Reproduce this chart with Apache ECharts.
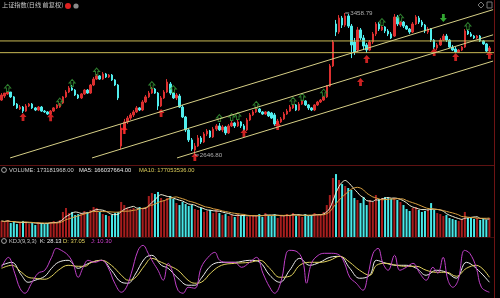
<!DOCTYPE html>
<html><head><meta charset="utf-8">
<script src="https://cdn.jsdelivr.net/npm/echarts@6/dist/echarts.min.js"></script>
<style>html,body{margin:0;padding:0;background:#000;}#c{width:500px;height:298px;}</style>
</head><body><div id="c"></div>
<script>
// ---- data ----
const opens = [2961,2984,2996,3007,2979,2938,2910,2921,2898,2927,2938,2916,2904,2921,2898,2893,2881,2898,2916,2921,
2944,2979,3007,3030,3018,2990,2973,2996,3018,3001,3047,3081,3099,3081,3110,3093,3104,3076,3047,2698,
2790,2836,2858,2876,2893,2916,2904,2950,2979,3001,3024,3001,2927,2973,3007,3053,3001,2973,2984,2921,
2864,2790,2733,2675,2698,2744,2721,2767,2784,2750,2795,2813,2790,2807,2773,2813,2830,2813,2836,2813,
2790,2847,2876,2893,2910,2893,2881,2893,2887,2876,2824,2836,2853,2881,2898,2916,2933,2904,2938,2956,
2933,2916,2904,2933,2950,2961,2979,3041,3156,3396,3350,3430,3390,3442,3384,3293,3247,3362,3316,3276,
3247,3293,3339,3396,3362,3379,3356,3339,3327,3436,3390,3407,3384,3367,3350,3396,3430,3407,3390,3350,
3367,3304,3259,3276,3304,3327,3304,3264,3253,3236,3247,3264,3356,3339,3327,3316,3327,3299,3282,3241];
const closes = [2990,3001,3007,2979,2933,2916,2921,2898,2927,2938,2916,2904,2921,2898,2893,2881,2898,2916,2933,2938,
2979,3007,3030,3018,2990,2973,2996,3018,3001,3047,3081,3099,3081,3110,3093,3104,3076,3047,2973,2801,
2836,2858,2876,2893,2916,2904,2950,2979,3001,3024,3001,2927,2973,3007,3064,3001,2973,2990,2921,2864,
2790,2733,2681,2698,2744,2721,2767,2784,2750,2795,2813,2790,2807,2773,2813,2830,2813,2836,2813,2790,
2847,2876,2893,2910,2893,2881,2893,2870,2858,2824,2841,2853,2881,2898,2921,2933,2904,2938,2956,2933,
2916,2904,2933,2950,2961,2979,3041,3156,3293,3350,3430,3390,3442,3384,3276,3236,3362,3316,3270,3247,
3293,3339,3396,3367,3379,3356,3339,3316,3436,3396,3407,3384,3367,3350,3396,3436,3407,3390,3356,3367,
3304,3264,3276,3304,3327,3304,3264,3247,3236,3247,3264,3356,3339,3327,3316,3327,3299,3282,3241,3259];
const lows = [2956,2973,2990,2973,2927,2910,2904,2887,2893,2921,2910,2898,2898,2893,2887,2876,2876,2893,2910,2916,
2938,2973,3001,3013,2984,2967,2967,2990,2996,2996,3041,3076,3076,3076,3087,3087,3070,3041,2961,2681,
2767,2824,2847,2864,2887,2898,2898,2944,2973,2996,2996,2904,2921,2967,3001,2990,2967,2961,2916,2858,
2778,2721,2670,2646.8,2693,2710,2715,2755,2744,2744,2784,2784,2778,2761,2767,2807,2801,2807,2801,2784,
2784,2841,2870,2887,2887,2876,2876,2864,2853,2813,2818,2830,2847,2876,2893,2910,2898,2898,2933,2927,
2904,2898,2898,2927,2944,2956,2973,3036,3150,3327,3339,3373,3379,3373,3201,3219,3236,3304,3247,3230,
3241,3282,3327,3356,3356,3344,3327,3310,3322,3384,3379,3373,3362,3339,3344,3390,3396,3379,3344,3339,
3293,3253,3247,3270,3299,3293,3259,3241,3230,3230,3241,3259,3333,3322,3310,3310,3293,3276,3236,3236];
const highs = [3001,3001,3007,3007,2984,2944,2933,2927,2938,2944,2944,2921,2927,2927,2904,2898,2904,2921,2938,2944,
2984,3018,3041,3047,3024,2996,3001,3024,3024,3053,3093,3110,3104,3121,3116,3110,3110,3081,3053,2824,
2853,2870,2887,2904,2927,2921,2961,2990,3013,3036,3030,3007,2984,3018,3081,3064,3007,3001,2996,2933,
2870,2801,2744,2715,2761,2755,2778,2795,2790,2807,2824,2830,2818,2813,2824,2841,2836,2847,2841,2824,
2858,2887,2904,2921,2916,2898,2898,2898,2893,2887,2853,2864,2893,2910,2933,2938,2938,2950,2961,2961,
2938,2921,2938,2956,2967,2984,3047,3167,3304,3419,3447,3442,3458.79,3453,3396,3316,3379,3373,3333,3287,
3304,3350,3407,3407,3384,3384,3367,3350,3453,3447,3413,3413,3390,3373,3407,3447,3442,3419,3396,3379,
3373,3310,3287,3316,3339,3339,3310,3276,3264,3253,3270,3367,3362,3350,3333,3333,3333,3304,3287,3270];
const volumeMillions = [146,137,155,127,137,118,127,146,137,118,127,109,137,
127,118,127,137,146,137,155,
228,264,218,228,200,209,218,237,228,246,273,
264,228,209,200,191,200,218,
228,319,291,
264,255,264,246,273,255,
273,
373,400,391,410,
355,
337,355,373,346,
309,291,319,300,282,291,
255,246,264,228,237,246,218,255,
218,200,209,191,200,182,209,191,200,182,191,
200,191,209,182,218,200,191,209,173,200,191,209,200,218,191,200,182,209,191,200,218,200,209,
228,291,382,537,573,519,482,464,446,428,355,337,309,364,291,337,319,382,346,355,364,355,346,355,337,319,291,255,237,264,273,246,228,237,246,309,246,218,209,191,200,173,164,155,146,164,228,173,182,164,173,155,164,155,173.18];

// KDJ (position in candle index units)
const kdIdx = [0,3.3,6.5,8.7,10.9,14.1,16.3,18.5,21.7,25,27.1,29.3,32.6,35.8,39.1,41.3,43.4,46.7,48.9,52.1,54.3,57.5,60.8,63,65.1,68.4,71.7,76,
80.9,84.2,87.4,90.7,93.9,97.2,100.4,103.7,107,110.2,113.5,116.7,120,122.2,125.4,128.7,131.9,135.2,138.4,141.7,145,148.2,151.5,154.7,159];
const kValues = [58.4,63.7,40.6,28.1,31.7,38.8,53.0,63.7,67.3,53.0,58.4,63.7,67.3,49.5,28.1,26.4,40.6,70.8,76.2,58.4,53.0,35.3,22.8,22.8,35.3,58.4,63.7,63.7,
67.3,63.7,40.6,28.1,49.5,70.8,58.4,63.7,72.6,74.4,53.0,35.3,40.6,67.3,61.9,58.4,58.4,53.0,40.6,49.5,45.9,35.3,63.7,53.0,28.13];
const dValues = [53.0,58.4,45.9,37.0,35.3,33.5,38.8,49.5,58.4,56.6,56.6,63.7,67.3,58.4,40.6,31.7,35.3,58.4,70.8,63.7,58.4,49.5,31.7,26.4,28.1,45.9,58.4,61.9,
63.7,67.3,53.0,37.0,38.8,58.4,63.7,63.7,67.3,74.4,63.7,49.5,40.6,58.4,61.9,58.4,56.6,56.6,49.5,45.9,45.9,38.8,53.0,58.4,37.05];
const jIdx = [0,2.2,4.3,6,7.6,9.8,11.9,14.1,16.3,17.9,19.5,21.7,23.3,25,26.6,28.2,30.4,32.6,34.7,36.9,39.1,40.7,42.3,44.5,46.1,47.8,49.4,51,52.7,54.3,55.9,57.5,59.2,60.8,63,65.1,67.3,69.5,71.1,73.8,76,78.2,
80.9,83.1,85.2,87.4,89,91.2,92.8,93.9,96.6,98.3,99.4,101,103.2,105.3,107.5,110.2,111.8,113.5,115.6,117.8,119.4,121.1,122.7,124.3,126,128.1,129.8,131.9,134.1,136.3,138.4,140.6,142.2,143.9,145.5,147.1,148.8,150.9,152.6,154.7,156.4,159];
const jValues = [54.8,72.6,44.2,17.4,8.5,26.4,44.2,49.5,72.6,88.6,85.1,76.2,61.9,37.0,54.8,67.3,63.7,67.3,54.8,26.4,10.3,19.2,44.2,85.1,94.0,79.8,63.7,49.5,31.7,61.9,44.2,13.9,8.5,19.2,17.4,54.8,72.6,81.5,67.3,63.7,63.7,54.8,
63.7,72.6,44.2,19.2,8.5,31.7,79.8,85.1,81.5,63.7,26.4,61.9,76.2,79.8,79.8,76.2,61.9,37.0,26.4,13.9,40.6,79.8,88.6,61.9,49.5,76.2,49.5,54.8,61.9,44.2,31.7,54.8,44.2,72.6,31.7,19.2,31.7,85.1,79.8,54.8,19.2,10.30];

// signals
const greenUpIdx = [2,19,23,31,49,56,71,75,77,83,95,98,105,124,130,152];
const greenUpPrice = [3030,2952,3059,3124,3047,3024,2858,2864,2870,2933,2956,2979,3003,3407,3432,3384];
const redUpIdx = [7,16,40,52,63,79,90,117,119,141,148,159];
const redUpPrice = [2864,2862,2790,2887,2636,2773,2813,3064,3196,3236,3207,3219];
const greenDownIdx = [144];
const greenDownPrice = [3430];
const extremeIdx = [112,63];
const extremePrice = [3458.79,2646.80];

// drawn lines
const trendStartIdx = [2.8,29.5,57.2];
const trendStartPrice = [2630,2630,2630];
const trendEndIdx = [160.2,160.2,160.2];
const trendEndPrice = [3478,3334,3184];
const levelPrices = [3299,3232];

const categories = Array.from({length:161},(_,i)=>String(i+1));

// ---- build ----
const candleData = opens.map((o,i)=>[o,closes[i],lows[i],highs[i]]);
const UP='#dc3030', DOWN='#50eeee';
const volData = volumeMillions.map((v,i)=>({value:v,itemStyle:{color: closes[i]>=opens[i]?'#a81e1e':'#48e8e8'}}));
function ma(arr,n){return arr.map((v,i)=>{const s=arr.slice(Math.max(0,i-n+1),i+1);return +(s.reduce((a,b)=>a+b,0)/s.length).toFixed(2);});}
const ma5 = ma(volumeMillions,5), ma10 = ma(volumeMillions,10);

const arrowUp='path://M5,0L10,5L7,5L7,10L3,10L3,5L0,5Z';
const arrowDown='path://M3,0L7,0L7,5L10,5L5,10L0,5L3,5Z';
const trendSeries = trendStartIdx.map((s,i)=>({type:'line',xAxisIndex:2,yAxisIndex:3,symbol:'none',silent:true,
  data:[[s,trendStartPrice[i]],[trendEndIdx[i],trendEndPrice[i]]],lineStyle:{color:'#d6cf86',width:1}}));
const levelSeries = levelPrices.map(p=>({type:'line',xAxisIndex:2,yAxisIndex:3,symbol:'none',silent:true,
  data:[[-0.5,p],[160.5,p]],lineStyle:{color:'#c9b955',width:1}}));

const lab=(t,x,y,c)=>({type:'text',left:x,top:y,style:{text:t,fill:c,fontSize:5.8,fontFamily:'"Liberation Sans",Arial,sans-serif'}});

const option = {
  backgroundColor:'#000',
  animation:false,
  grid:[
    {left:0,right:6,top:8,height:160},
    {left:0,right:6,top:170,height:67},
    {left:0,right:6,top:242,height:56},
    {left:0,right:6,top:8,height:160}
  ],
  xAxis:[
    {type:'category',gridIndex:0,data:categories,show:false,boundaryGap:true},
    {type:'category',gridIndex:1,data:categories,show:false,boundaryGap:true},
    {type:'value',gridIndex:3,min:-0.5,max:160.5,show:false},
    {type:'value',gridIndex:2,min:-0.5,max:160.5,show:false}
  ],
  yAxis:[
    {type:'value',gridIndex:0,min:2572.4,max:3487.4,show:false},
    {type:'value',gridIndex:1,min:0,max:610,show:false},
    {type:'value',gridIndex:2,min:0,max:100,show:false},
    {type:'value',gridIndex:3,min:2572.4,max:3487.4,show:false}
  ],
  series:[
    ...levelSeries,
    ...trendSeries,
    {type:'candlestick',xAxisIndex:0,yAxisIndex:0,data:candleData,barWidth:2,
      itemStyle:{color:UP,color0:DOWN,borderColor:UP,borderColor0:DOWN,borderWidth:1}},
    {type:'scatter',xAxisIndex:0,yAxisIndex:0,symbol:arrowUp,symbolSize:[6,7],
      data:greenUpIdx.map((x,i)=>[x,greenUpPrice[i]]),
      itemStyle:{color:'rgba(0,0,0,0)',borderColor:'#3a9e3a',borderWidth:1}},
    {type:'scatter',xAxisIndex:0,yAxisIndex:0,symbol:arrowUp,symbolSize:[7,8],
      data:redUpIdx.map((x,i)=>[x,redUpPrice[i]]),itemStyle:{color:'#ff2a2a'}},
    {type:'scatter',xAxisIndex:0,yAxisIndex:0,symbol:arrowDown,symbolSize:[7,8],
      data:greenDownIdx.map((x,i)=>[x,greenDownPrice[i]]),itemStyle:{color:'#3ed13e'}},
    {type:'scatter',xAxisIndex:0,yAxisIndex:0,symbol:'rect',symbolSize:[4,1],symbolOffset:[2,0],
      data:extremeIdx.map((x,i)=>[x,extremePrice[i]]),itemStyle:{color:'#cfcfcf'},
      label:{show:true,position:'right',distance:1,color:'#d4d4d4',fontSize:6.2,fontFamily:'"Liberation Sans",Arial,sans-serif',
        formatter:p=>p.value[1].toFixed(2)}},
    {type:'bar',xAxisIndex:1,yAxisIndex:1,data:volData,barWidth:2},
    {type:'line',xAxisIndex:1,yAxisIndex:1,data:ma5,symbol:'none',smooth:0.3,lineStyle:{color:'#f2f0d8',width:1}},
    {type:'line',xAxisIndex:1,yAxisIndex:1,data:ma10,symbol:'none',smooth:0.3,lineStyle:{color:'#d9a040',width:1}},
    {type:'line',xAxisIndex:3,yAxisIndex:2,data:kdIdx.map((x,i)=>[x,kValues[i]]),symbol:'none',smooth:0.4,lineStyle:{color:'#ececec',width:1}},
    {type:'line',xAxisIndex:3,yAxisIndex:2,data:kdIdx.map((x,i)=>[x,dValues[i]]),symbol:'none',smooth:0.4,lineStyle:{color:'#e2d35e',width:1}},
    {type:'line',xAxisIndex:3,yAxisIndex:2,data:jIdx.map((x,i)=>[x,jValues[i]]),symbol:'none',smooth:0.4,lineStyle:{color:'#c040c8',width:1}}
  ],
  graphic:[
    {type:'line',shape:{x1:0,y1:165.5,x2:494,y2:165.5},style:{stroke:'#5e1212',lineWidth:1}},
    {type:'line',shape:{x1:0,y1:237.5,x2:494,y2:237.5},style:{stroke:'#3a0c0c',lineWidth:1}},
    {type:'line',shape:{x1:494.5,y1:0,x2:494.5,y2:298},style:{stroke:'#6e1414',lineWidth:1}},
    {type:'text',left:2,top:2,style:{text:'上证指数(日线 前复权)',fill:'#c8c8c8',fontSize:6.2,fontFamily:'"Noto Sans CJK SC",sans-serif'}},
    {type:'circle',shape:{cx:68,cy:6,r:3},style:{fill:'#e02020'}},
    {type:'circle',shape:{cx:76,cy:6,r:2.6},style:{fill:'#8a8a8a'}},
    {type:'polygon',shape:{points:[[481,2],[484,5],[481,8],[478,5]]},style:{fill:'none',stroke:'#777',lineWidth:1}},
    {type:'rect',shape:{x:487,y:2,width:5,height:6},style:{fill:'none',stroke:'#777',lineWidth:1}},
    {type:'circle',shape:{cx:4,cy:170,r:2.4},style:{fill:'none',stroke:'#aaa',lineWidth:1}},
    lab('VOLUME: 173181968.00',9,167,'#cfcfcf'),
    lab('MA5: 166037664.00',79,167,'#e8e8e8'),
    lab('MA10: 177053536.00',139,167,'#dccd5a'),
    {type:'circle',shape:{cx:4,cy:241,r:2.4},style:{fill:'none',stroke:'#aaa',lineWidth:1}},
    lab('KDJ(9,3,3)',9,238,'#c4c4c4'),
    lab('K: 28.13',40,238,'#ececec'),
    lab('D: 37.05',63,238,'#e2d35e'),
    lab('J: 10.30',91,238,'#d040d0')
  ]
};
const chart = echarts.init(document.getElementById('c'));
chart.setOption(option);
</script></body></html>
